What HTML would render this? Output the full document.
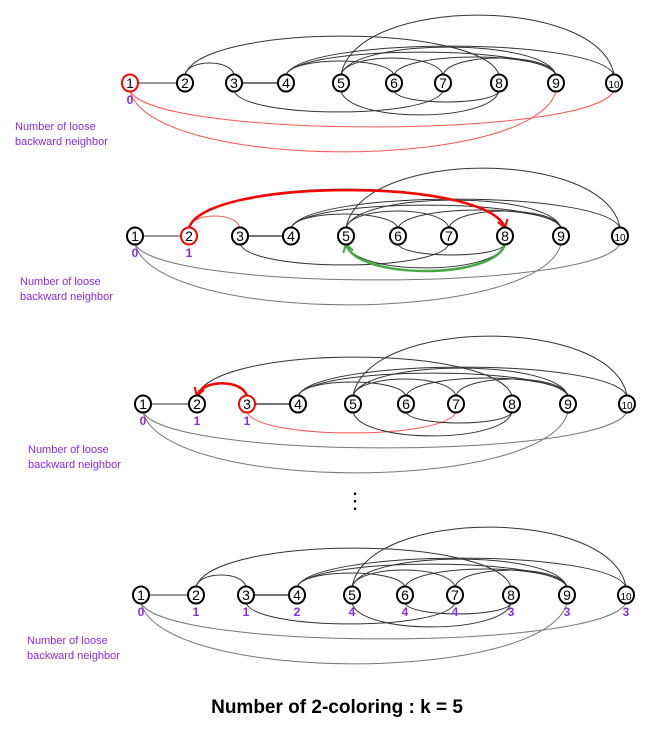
<!DOCTYPE html>
<html><head><meta charset="utf-8">
<style>
html,body{margin:0;padding:0;background:#fff;}
svg{display:block;font-family:"Liberation Sans",Arial,sans-serif;}
</style></head>
<body>
<svg id="s" width="650" height="735" viewBox="0 0 650 735">
<defs>
<marker id="ar" markerUnits="userSpaceOnUse" markerWidth="12" markerHeight="12" refX="9" refY="6" orient="auto"><path d="M1,1 L9,6 L1,11" fill="none" stroke="#f00" stroke-width="2"/></marker>
<marker id="ag" markerUnits="userSpaceOnUse" markerWidth="12" markerHeight="12" refX="9" refY="6" orient="auto"><path d="M1,1 L9,6 L1,11" fill="none" stroke="#4a4" stroke-width="2"/></marker>
</defs>
<g id="g"></g>
<text x="355" y="508" font-size="22" text-anchor="middle">⋮</text>
<text x="337" y="713" font-size="19" font-weight="bold" text-anchor="middle">Number of 2-coloring : k = 5</text>
</svg>
<script>
const panelX=[[130,185,234,286,341,394,443,499,556,614],[135,189,240,291,346,398,449,505,561,620],[143,197,247,298,353,406,456,512,568,627],[141,196,246,297,352,405,455,511,567,626]];
const panelY=[83,236,404,595];
const labelPos=[[15,130],[20,285],[28,453],[27,644]];
const counts=[[0],[0,1],[0,1,1],[0,1,1,2,4,4,4,3,3,3]];
// edges: a,b,side(1 above,-1 below),height
const edges=[[2,3,1,18],[2,8,1,45],[5,10,1,66],[4,10,1,35],[4,9,1,29],[5,7,1,23],[6,9,1,24],[7,9,1,23],[4,6,1,20],[5,9,1,34],[3,7,-1,27],[6,8,-1,17],[5,8,-1,30],[1,10,-1,42],[1,9,-1,67]];
const ns="http://www.w3.org/2000/svg";
const G=document.getElementById('g');
function mk(t,a){const e=document.createElementNS(ns,t);for(const k in a)e.setAttribute(k,a[k]);G.appendChild(e);return e;}
function arc(xs,y,a,b,side,h){const x1=xs[a-1],x2=xs[b-1];const dy=side>0?-8:8;const mx=(x1+x2)/2;
 return `M${x1},${y+dy} C${x1+(mx-x1)*0.1},${y-side*h*1.33} ${x2-(x2-mx)*0.1},${y-side*h*1.33} ${x2},${y+dy}`;}
panelX.forEach((xs,p)=>{const y=panelY[p];
 let l=mk('line',{x1:xs[0]+8,y1:y,x2:xs[1]-8,y2:y,stroke:'#777','stroke-width':1.5});
 
 l=mk('line',{x1:xs[2]+8,y1:y,x2:xs[3]-8,y2:y,stroke:'#222','stroke-width':1.2});
 
 edges.forEach(e=>{let col='#333',w=1;
  if(e[0]===1)col=p===0?'#f55':'#777';
  if(p===1&&e[0]===2&&e[1]===3)col='#f55';
  if(p===2&&e[0]===3&&e[1]===7)col='#f55';
  const pa=mk('path',{d:arc(xs,y,e[0],e[1],e[2],e[3]),fill:'none',stroke:col,'stroke-width':w});
  
  
 });
 if(p===1){let a=mk('path',{d:arc(xs,y,2,8,1,44),fill:'none',stroke:'#f00','stroke-width':2.5,'marker-end':'url(#ar)'});
  
  a=mk('path',{d:`M${xs[7]},${y+8} C${xs[7]-10},${y+44} ${xs[4]+10},${y+44} ${xs[4]},${y+8}`,fill:'none',stroke:'#4a4','stroke-width':2.5,'marker-end':'url(#ag)'});
  }
 if(p===2){let a=mk('path',{d:`M${xs[2]},${y-8} C${xs[2]-5},${y-25} ${xs[1]+5},${y-25} ${xs[1]},${y-8}`,fill:'none',stroke:'#f00','stroke-width':2.5,'marker-end':'url(#ar)'});
  }
 xs.forEach((x,i)=>{const red=(p===0&&i===0)||(p===1&&i===1)||(p===2&&i===2);
  const c=mk('ellipse',{cx:x,cy:y,rx:8,ry:8.5,fill:'#fff',stroke:red?'#f00':'#000','stroke-width':2});
  
  const t=mk('text',{x:x,y:y+5,'font-size':i===9?10:14,'text-anchor':'middle'});t.textContent=i+1;
  });
 counts[p].forEach((v,i)=>{const t=mk('text',{x:xs[i],y:y+21,'font-size':12,'font-weight':'bold',fill:'#8a2be2','text-anchor':'middle'});t.textContent=v;
  });
 const [lx,ly]=labelPos[p];
 const t1=mk('text',{x:lx,y:ly,'font-size':11,fill:'#8a2be2'});t1.textContent='Number of loose';
 
 const t2=mk('text',{x:lx,y:ly+15,'font-size':11,fill:'#8a2be2'});t2.textContent='backward neighbor';
 
});
</script>
</body></html>
